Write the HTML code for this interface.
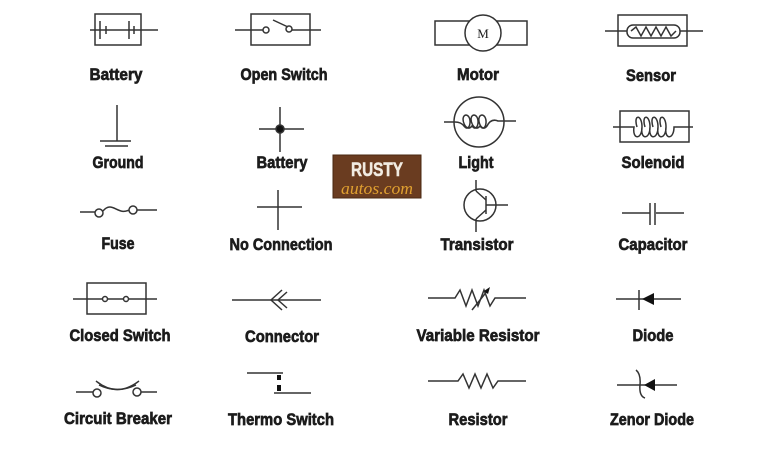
<!DOCTYPE html>
<html><head><style>
html,body{margin:0;padding:0;background:#fff;}
svg{display:block;}
text{font-family:"Liberation Sans Narrow","Liberation Sans",sans-serif;font-weight:bold;font-size:17px;fill:#1c1c1c;stroke:#1c1c1c;stroke-width:0.7;text-anchor:middle;}
</style></head><body>
<svg width="768" height="456" viewBox="0 0 768 456" xmlns="http://www.w3.org/2000/svg">
<g fill="none" stroke="#333" stroke-width="1.5">
<rect x="95" y="14" width="46" height="31"/>
<line x1="90" y1="30" x2="158" y2="30"/>
<line x1="100" y1="21" x2="100" y2="39"/><line x1="106" y1="26" x2="106" y2="34"/>
<line x1="129" y1="21" x2="129" y2="39"/><line x1="134" y1="26" x2="134" y2="34"/>
<rect x="251" y="14" width="59" height="31"/>
<line x1="235" y1="30" x2="263" y2="30"/><line x1="292" y1="30" x2="321" y2="30"/>
<circle cx="266" cy="30" r="3"/><circle cx="289" cy="29" r="3"/>
<line x1="273" y1="20" x2="288" y2="27"/>
<rect x="435" y="21" width="92" height="24"/>
<circle cx="483" cy="33" r="18" fill="#fff"/>
<rect x="618" y="15" width="69" height="31"/>
<line x1="605" y1="31" x2="703" y2="31"/>
<rect x="627" y="25" width="53" height="13" rx="6" fill="#fff"/>
<polyline points="631,31 636,27 641,36 646,27 651,36 656,27 661,36 666,27 671,36 676,31"/>
<line x1="117" y1="105" x2="117" y2="141"/>
<line x1="100" y1="141" x2="131" y2="141"/><line x1="105" y1="146" x2="128" y2="146"/>
<line x1="259" y1="129" x2="304" y2="129"/><line x1="280" y1="107" x2="280" y2="152"/>
<circle cx="280" cy="129" r="4" fill="#111"/>
<circle cx="479" cy="122" r="25"/>
<path d="M444,122 H455 Q461,122 464,126 C470,134 473,116 466,115 C459,116 466,134 472,126 C478,134 481,116 474,115 C467,116 474,134 480,126 C486,134 489,116 482,115 C475,116 481,134 487,126 Q491,118 498,121 H516"/>
<rect x="620" y="111" width="69" height="31"/>
<path d="M613,127 H634 C632,140 642,140 642,127 C642,114 633,114 637,127 M642,127 C640,140 650,140 650,127 C650,114 641,114 645,127 M650,127 C648,140 658,140 658,127 C658,114 649,114 653,127 M658,127 C656,140 666,140 666,127 C666,114 657,114 661,127 M666,127 C664,140 674,140 674,127 H693"/>
<line x1="80" y1="212" x2="95" y2="212"/><line x1="137" y1="210" x2="157" y2="210"/>
<circle cx="99" cy="213" r="4"/><circle cx="133" cy="210" r="4"/>
<path d="M103,211 C112,200 118,216 129,210"/>
<line x1="257" y1="207" x2="302" y2="207"/><line x1="278" y1="190" x2="278" y2="230"/>
<circle cx="480" cy="205" r="16"/>
<line x1="486" y1="196" x2="486" y2="214"/>
<line x1="486" y1="205" x2="508" y2="205"/>
<line x1="486" y1="200" x2="476" y2="191"/><line x1="476" y1="191" x2="476" y2="180"/>
<line x1="486" y1="210" x2="476" y2="219"/><line x1="476" y1="219" x2="476" y2="232"/>
<line x1="622" y1="213" x2="650" y2="213"/><line x1="656" y1="213" x2="684" y2="213"/>
<line x1="650" y1="203" x2="650" y2="225"/><line x1="655" y1="203" x2="655" y2="225"/>
<rect x="87" y="283" width="59" height="31"/>
<line x1="73" y1="299" x2="157" y2="299"/>
<circle cx="105" cy="299" r="2.5" fill="#fff"/><circle cx="126" cy="299" r="2.5" fill="#fff"/>
<line x1="232" y1="300" x2="321" y2="300"/>
<polyline points="282,290 271,300 282,310"/><polyline points="287,292 278,300 287,308"/>
<polyline points="428,298 455,298 460,290 466,306 472,290 478,306 484,290 490,306 495,298 526,298"/>
<line x1="472" y1="310" x2="488" y2="290"/>
<line x1="616" y1="299" x2="681" y2="299"/>
<line x1="639" y1="290" x2="639" y2="310"/>
<line x1="76" y1="392" x2="93" y2="392"/><line x1="141" y1="392" x2="157" y2="392"/>
<circle cx="97" cy="393" r="4"/><circle cx="137" cy="392" r="4"/>
<path d="M96,381 Q117,398 139,381"/>
<path d="M99,385 Q117,394 136,385"/>
<line x1="247" y1="373" x2="283" y2="373"/><line x1="274" y1="393" x2="311" y2="393"/>
<polyline points="428,381 458,381 463,374 469,388 475,374 481,388 487,374 493,388 498,381 526,381"/>
<line x1="617" y1="385" x2="677" y2="385"/>
<path d="M636,370 Q641,374 640,385 Q639,396 645,398"/>
</g>
<g fill="#111">
<rect x="277" y="375" width="4" height="5"/><rect x="277" y="385" width="4" height="6"/>
<polygon points="490,287 484,291 488,294"/>
<polygon points="642,299 654,293 654,305"/>
<polygon points="644,385 655,379 655,391"/>
</g>
<text x="483" y="38" style="font-family:'Liberation Serif',serif;font-weight:normal;font-size:13px;stroke:none;">M</text>
<rect x="333" y="155" width="88" height="43" fill="#6a3c20"/>
<rect x="333" y="155" width="88" height="43" fill="none" stroke="#4a2812" stroke-width="1"/>
<text x="377" y="176" style="font-size:19px;fill:#f2ece2;stroke:#f2ece2;stroke-width:0.5;" textLength="52" lengthAdjust="spacingAndGlyphs">RUSTY</text>
<text x="377" y="194" style="font-family:'Liberation Serif',serif;font-style:italic;font-weight:normal;font-size:17px;fill:#e0a030;stroke:none;" textLength="72" lengthAdjust="spacingAndGlyphs">autos.com</text>
<text x="116" y="80" textLength="53" lengthAdjust="spacingAndGlyphs">Battery</text>
<text x="284" y="80" textLength="87" lengthAdjust="spacingAndGlyphs">Open Switch</text>
<text x="478" y="80" textLength="42" lengthAdjust="spacingAndGlyphs">Motor</text>
<text x="651" y="81" textLength="50" lengthAdjust="spacingAndGlyphs">Sensor</text>
<text x="118" y="168" textLength="51" lengthAdjust="spacingAndGlyphs">Ground</text>
<text x="282" y="168" textLength="51" lengthAdjust="spacingAndGlyphs">Battery</text>
<text x="476" y="168" textLength="35" lengthAdjust="spacingAndGlyphs">Light</text>
<text x="653" y="168" textLength="63" lengthAdjust="spacingAndGlyphs">Solenoid</text>
<text x="118" y="249" textLength="33" lengthAdjust="spacingAndGlyphs">Fuse</text>
<text x="281" y="250" textLength="103" lengthAdjust="spacingAndGlyphs">No Connection</text>
<text x="477" y="250" textLength="73" lengthAdjust="spacingAndGlyphs">Transistor</text>
<text x="653" y="250" textLength="69" lengthAdjust="spacingAndGlyphs">Capacitor</text>
<text x="120" y="341" textLength="101" lengthAdjust="spacingAndGlyphs">Closed Switch</text>
<text x="282" y="342" textLength="74" lengthAdjust="spacingAndGlyphs">Connector</text>
<text x="478" y="341" textLength="123" lengthAdjust="spacingAndGlyphs">Variable Resistor</text>
<text x="653" y="341" textLength="41" lengthAdjust="spacingAndGlyphs">Diode</text>
<text x="118" y="424" textLength="108" lengthAdjust="spacingAndGlyphs">Circuit Breaker</text>
<text x="281" y="425" textLength="106" lengthAdjust="spacingAndGlyphs">Thermo Switch</text>
<text x="478" y="425" textLength="59" lengthAdjust="spacingAndGlyphs">Resistor</text>
<text x="652" y="425" textLength="84" lengthAdjust="spacingAndGlyphs">Zenor Diode</text>
</svg>
</body></html>
